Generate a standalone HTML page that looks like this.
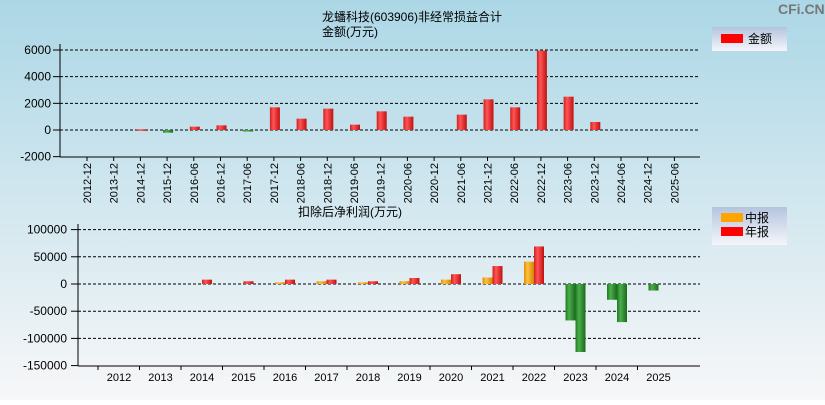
<!DOCTYPE html>
<html><head><meta charset="utf-8"><style>
body{margin:0;width:825px;height:400px;overflow:hidden;font-family:"Liberation Sans","Noto Sans CJK SC",sans-serif;}
svg text{font-family:"Liberation Sans","Noto Sans CJK SC",sans-serif;}
</style></head><body>
<svg id="c" width="825" height="400">
<defs>
<linearGradient id="bg" x1="0" y1="0" x2="0" y2="1"><stop offset="0" stop-color="#acd7e6"/><stop offset="1" stop-color="#f7f7f8"/></linearGradient>
<linearGradient id="lg" x1="0" y1="0" x2="0" y2="1"><stop offset="0" stop-color="#b4c4de"/><stop offset="1" stop-color="#f5f5fa"/></linearGradient>
<linearGradient id="red" x1="0" x2="1"><stop offset="0" stop-color="#d02020"/><stop offset="0.35" stop-color="#ff5555"/><stop offset="1" stop-color="#c01010"/></linearGradient>
<linearGradient id="grn" x1="0" x2="1"><stop offset="0" stop-color="#1f7a1f"/><stop offset="0.35" stop-color="#4cae4c"/><stop offset="1" stop-color="#1a6a1a"/></linearGradient>
<linearGradient id="org" x1="0" x2="1"><stop offset="0" stop-color="#e09000"/><stop offset="0.35" stop-color="#ffc040"/><stop offset="1" stop-color="#d08800"/></linearGradient>
</defs>
<rect width="825" height="400" fill="url(#bg)"/>
<text x="778" y="14" font-size="14" fill="#777" font-weight="bold">CFi.CN</text>
<text x="412" y="21" font-size="12" text-anchor="middle">龙蟠科技(603906)非经常损益合计</text>
<text x="322" y="36" font-size="12">金额(万元)</text>
<text x="298" y="216" font-size="12">扣除后净利润(万元)</text>
<g><rect x="712" y="27" width="75" height="24" fill="url(#lg)"/><rect x="721" y="34" width="22" height="9" fill="#f00"/><text x="748" y="43" font-size="12">金额</text></g>
<g><rect x="712" y="207" width="75" height="38" fill="url(#lg)"/><rect x="721" y="213" width="22" height="9" fill="#ffa500"/><text x="745" y="222" font-size="12">中报</text><rect x="721" y="227" width="22" height="9" fill="#f00"/><text x="745" y="236" font-size="12">年报</text></g>
<g id="top"></g><g id="bot"></g>
</svg>
<script>
const topCats=["2012-12","2013-12","2014-12","2015-12","2016-06","2016-12","2017-06","2017-12","2018-06","2018-12","2019-06","2019-12","2020-06","2020-12","2021-06","2021-12","2022-06","2022-12","2023-06","2023-12","2024-06","2024-12","2025-06"];
const topVals=[0,0,50,-200,250,350,-50,1700,850,1600,400,1400,1000,0,1150,2300,1700,5950,2500,600,0,0,0];
const topTicks=[6000,4000,2000,0,-2000];
const botCats=["2012","2013","2014","2015","2016","2017","2018","2019","2020","2021","2022","2023","2024","2025"];
const midVals=[0,0,0,0,3000,5000,3000,5000,8000,12000,41000,-67000,-29000,-12000];
const annVals=[0,0,8000,5000,8000,8000,5000,11000,18000,33000,69000,-125000,-70000,0];
const botTicks=[100000,50000,0,-50000,-100000,-150000];
const NS="http://www.w3.org/2000/svg";
function mk(p,t,a){const e=document.createElementNS(NS,t);for(const k in a)e.setAttribute(k,a[k]);p.appendChild(e);return e;}
const T=document.getElementById('top');
const ty=v=>130-v*80/6000, tx=i=>87+i*26.7;
topTicks.forEach(v=>{const y=ty(v);
 if(v!==-2000){const g=mk(T,'line',{x1:60,x2:700,y1:y,y2:y,stroke:'#000','stroke-dasharray':'3,2'});}
 mk(T,'line',{x1:53,x2:60,y1:y,y2:y,stroke:'#000'});
 const t=mk(T,'text',{x:51,y:y+4,'font-size':12,'text-anchor':'end'});t.textContent=v;
 });
mk(T,'line',{x1:60,x2:60,y1:44,y2:157,stroke:'#000'});
mk(T,'line',{x1:60,x2:700,y1:157,y2:157,stroke:'#000'});
topCats.forEach((c,i)=>{const x=tx(i);
 mk(T,'line',{x1:x,x2:x,y1:157,y2:161,stroke:'#000'});
 const t=mk(T,'text',{x:0,y:0,'font-size':11,'text-anchor':'end',transform:`translate(${x+4},163) rotate(-90)`});t.textContent=c;
 
 const v=topVals[i]; if(v!==0){const y0=ty(0),y1=ty(v);
  const r=mk(T,'rect',{x:x-4,y:Math.min(y0,y1),width:10,height:Math.max(1.5,Math.abs(y1-y0)),fill:v>0?'url(#red)':'url(#grn)'});
  }});
const B=document.getElementById('bot');
const by=v=>284-v*27.2/50000, bx=i=>119+i*41.5;
botTicks.forEach(v=>{const y=by(v);
 if(v!==-150000){const g=mk(B,'line',{x1:78,x2:700,y1:y,y2:y,stroke:'#000','stroke-dasharray':'3,2'});}
 mk(B,'line',{x1:71,x2:78,y1:y,y2:y,stroke:'#000'});
 const t=mk(B,'text',{x:67,y:y+4,'font-size':12,'text-anchor':'end'});t.textContent=v;
 });
mk(B,'line',{x1:78,x2:78,y1:224,y2:366,stroke:'#000'});
mk(B,'line',{x1:78,x2:700,y1:366,y2:366,stroke:'#000'});
botCats.forEach((c,i)=>{const x=bx(i);
 mk(B,'line',{x1:x-21,x2:x-21,y1:366,y2:370,stroke:'#000'});
 const t=mk(B,'text',{x:x,y:381,'font-size':11,'text-anchor':'middle'});t.textContent=c;
 
 [[midVals[i],x-10,'url(#org)'],[annVals[i],x,'url(#red)']].forEach(([v,bx0,f])=>{ if(v!==0){const y0=by(0),y1=by(v);
  const r=mk(B,'rect',{x:bx0,y:Math.min(y0,y1),width:10,height:Math.abs(y1-y0),fill:v>0?f:'url(#grn)'});
  }});});
</script>
</body></html>
